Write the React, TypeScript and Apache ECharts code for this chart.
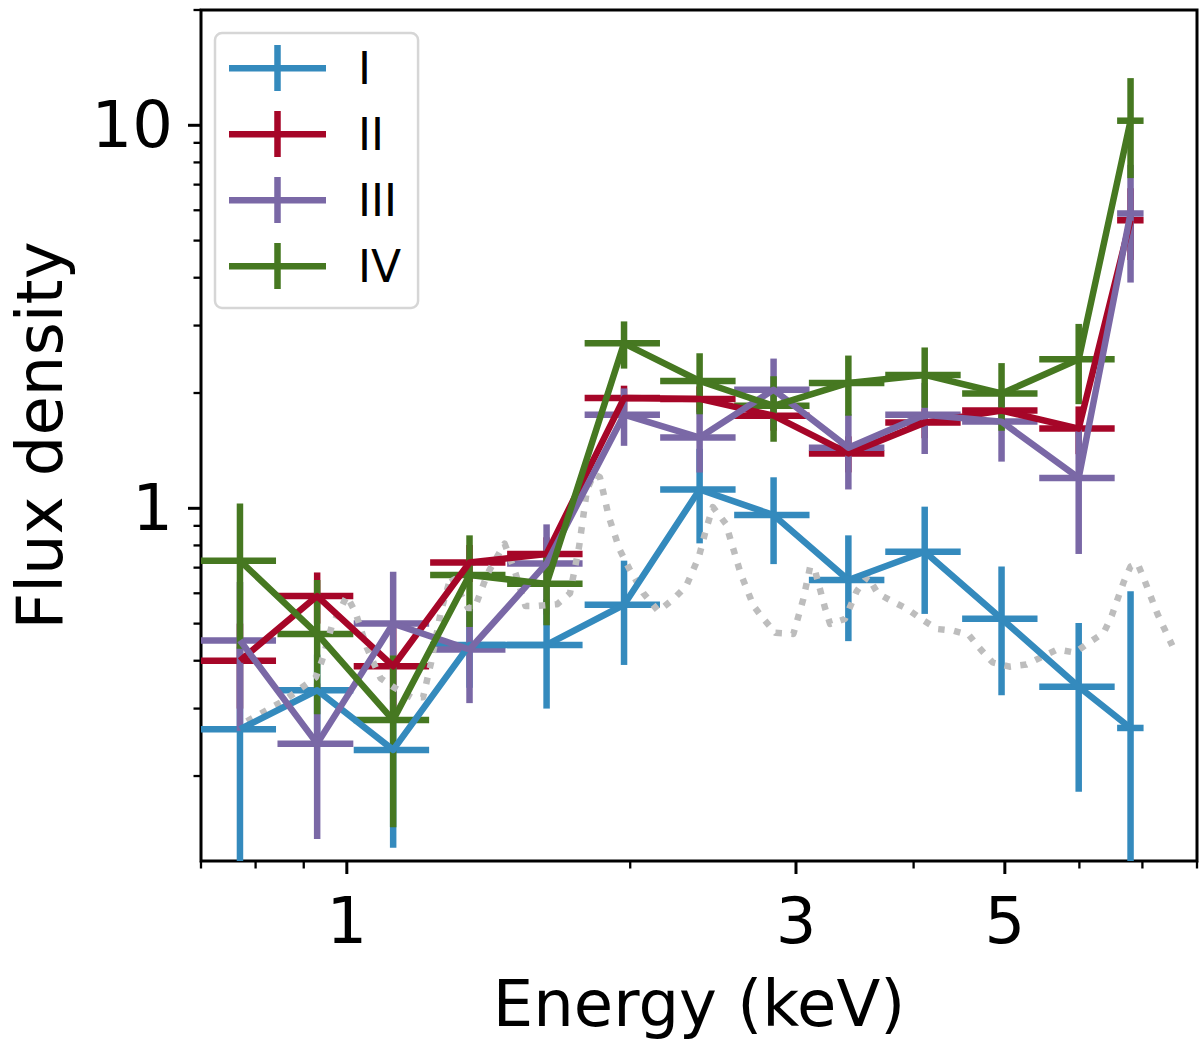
import { useEffect, useRef } from 'react';
import * as echarts from 'echarts';

// energy bins shared by all four spectra (keV), symmetric half-widths
const energy = [0.77, 0.93, 1.12, 1.35, 1.63, 1.97, 2.37, 2.84, 3.41, 4.11, 4.96, 5.99, 6.8];
const energyErr = [0.071, 0.086, 0.103, 0.124, 0.15, 0.181, 0.218, 0.261, 0.314, 0.378, 0.456, 0.551, 0.22];

const fluxI = [0.265, 0.335, 0.234, 0.44, 0.44, 0.56, 1.12, 0.96, 0.65, 0.77, 0.515, 0.342, 0.267];
const errI = [0.17, 0.08, 0.104, 0.1, 0.14, 0.17, 0.31, 0.245, 0.2, 0.24, 0.19, 0.16, 0.34];

const fluxII = [0.4, 0.59, 0.387, 0.722, 0.76, 1.94, 1.93, 1.745, 1.391, 1.674, 1.8, 1.615, 5.65];
const errII = [0.1, 0.09, 0.1, 0.08, 0.08, 0.15, 0.15, 0.15, 0.15, 0.15, 0.15, 0.23, 1.2];

const fluxIII = [0.452, 0.243, 0.5, 0.428, 0.718, 1.756, 1.53, 2.04, 1.44, 1.756, 1.684, 1.2, 5.885];
const errIII = [0.19, 0.106, 0.183, 0.118, 0.19, 0.3, 0.29, 0.42, 0.32, 0.37, 0.36, 0.44, 2.0];

const fluxIV = [0.73, 0.47, 0.28, 0.67, 0.635, 2.696, 2.15, 1.852, 2.125, 2.23, 1.994, 2.45, 10.28];
const errIV = [0.3, 0.18, 0.133, 0.18, 0.14, 0.38, 0.39, 0.36, 0.38, 0.4, 0.4, 0.58, 3.0];

// dotted reference model
const modelEnergy = [
    0.783, 0.858, 0.927, 0.941, 0.964, 1.0, 1.022, 1.05, 1.086, 1.126, 1.171, 1.205, 1.229, 1.259, 1.29,
    1.345, 1.367, 1.411, 1.471, 1.511, 1.548, 1.593, 1.673, 1.726, 1.765, 1.799, 1.83, 1.857, 1.898, 1.949,
    1.997, 2.066, 2.142, 2.222, 2.293, 2.366, 2.407, 2.448, 2.527, 2.62, 2.704, 2.771, 2.853, 2.981, 3.054,
    3.106, 3.144, 3.221, 3.261, 3.381, 3.481, 3.575, 3.663, 3.789, 3.939, 4.075, 4.236, 4.415, 4.579, 4.714,
    4.853, 5.057, 5.271, 5.683, 5.936, 6.141, 6.368, 6.493, 6.685, 6.8, 6.917, 7.036, 7.262, 7.531,
];
const modelFlux = [
    0.278, 0.315, 0.362, 0.4, 0.493, 0.59, 0.533, 0.433, 0.36, 0.339, 0.321, 0.321, 0.396, 0.539, 0.665,
    0.549, 0.549, 0.676, 0.809, 0.676, 0.556, 0.556, 0.562, 0.6, 0.795, 1.116, 1.228, 1.206, 0.95, 0.78,
    0.693, 0.6, 0.539, 0.579, 0.626, 0.748, 0.879, 1.008, 0.911, 0.676, 0.556, 0.514, 0.473, 0.47, 0.579,
    0.705, 0.685, 0.549, 0.499, 0.514, 0.608, 0.665, 0.6, 0.573, 0.546, 0.514, 0.484, 0.479, 0.467, 0.428,
    0.396, 0.386, 0.391, 0.428, 0.42, 0.446, 0.473, 0.524, 0.641, 0.705, 0.718, 0.649, 0.53, 0.438,
];

const xMajorTicks = [1, 3, 5];
const xTickLabels = ['1', '3', '5'];
const xMinorTicks = [0.7, 0.8, 0.9, 2, 4, 6, 7, 8];
const yMajorTicks = [1, 10];
const yTickLabels = ['1', '10'];
const yMinorTicks = [0.2, 0.3, 0.4, 0.5, 0.6, 0.7, 0.8, 0.9, 2, 3, 4, 5, 6, 7, 8, 9, 20];

const seriesNames = ['I', 'II', 'III', 'IV'];
const seriesFlux = [fluxI, fluxII, fluxIII, fluxIV];
const seriesErr = [errI, errII, errIII, errIV];
const colors = ['#348ABD', '#A60628', '#7A68A6', '#467821'];

const FONT = '"DejaVu Sans", Verdana, sans-serif';
const LW = 6.5;
const TICK_FONT = 64;

const errorBars = (color: string) => (params: any, api: any) => {
    const x = api.value(0);
    const y = api.value(1);
    const xe = api.value(2);
    const ye = api.value(3);
    const l = api.coord([x - xe, y]);
    const r = api.coord([x + xe, y]);
    const t = api.coord([x, y + ye]);
    const b = api.coord([x, Math.max(y - ye, 1e-3)]);
    const style = { stroke: color, lineWidth: LW, lineCap: 'butt' };
    return {
        type: 'group',
        children: [
            { type: 'line', shape: { x1: t[0], y1: t[1], x2: b[0], y2: b[1] }, style },
            { type: 'line', shape: { x1: l[0], y1: l[1], x2: r[0], y2: r[1] }, style },
        ],
    };
};

const xTicks = (len: number, width: number, labels?: string[]) => (params: any, api: any) => {
    const x = api.coord([api.value(0), 1])[0];
    const cs = params.coordSys;
    const yb = cs.y + cs.height;
    const children: any[] = [
        { type: 'line', shape: { x1: x, y1: yb, x2: x, y2: yb + len }, style: { stroke: '#000', lineWidth: width } },
    ];
    if (labels) {
        children.push({
            type: 'text',
            x,
            y: yb + 28,
            style: {
                text: labels[params.dataIndex],
                fill: '#000',
                fontSize: TICK_FONT,
                fontFamily: FONT,
                align: 'center',
                verticalAlign: 'top',
            },
        });
    }
    return { type: 'group', children };
};

const yTicks = (len: number, width: number, labels?: string[]) => (params: any, api: any) => {
    const y = api.coord([1, api.value(1)])[1];
    const cs = params.coordSys;
    const xl = cs.x;
    const children: any[] = [
        { type: 'line', shape: { x1: xl, y1: y, x2: xl - len, y2: y }, style: { stroke: '#000', lineWidth: width } },
    ];
    if (labels) {
        children.push({
            type: 'text',
            x: xl - 28,
            y,
            style: {
                text: labels[params.dataIndex],
                fill: '#000',
                fontSize: TICK_FONT,
                fontFamily: FONT,
                align: 'right',
                verticalAlign: 'middle',
            },
        });
    }
    return { type: 'group', children };
};

export default function App() {
    const chartRef = useRef<HTMLDivElement>(null);

    useEffect(() => {
        if (!chartRef.current) return;
        const chart = echarts.init(chartRef.current, undefined, { renderer: 'svg' });

        const dataSeries: any[] = [];
        seriesNames.forEach((name, k) => {
            dataSeries.push({
                name,
                type: 'line',
                color: colors[k],
                data: energy.map((e, i) => [e, seriesFlux[k][i]]),
                symbol: 'none',
                itemStyle: { color: colors[k] },
                lineStyle: { color: colors[k], width: LW, join: 'round' },
                silent: true,
            });
            dataSeries.push({
                name,
                type: 'custom',
                color: colors[k],
                clip: true,
                silent: true,
                encode: { x: 0, y: 1 },
                data: energy.map((e, i) => [e, seriesFlux[k][i], energyErr[i], seriesErr[k][i]]),
                renderItem: errorBars(colors[k]),
            });
        });

        const option = {
            animation: false,
            grid: {
                left: 190,
                right: 3,
                top: 10,
                bottom: 175,
                show: true,
                borderColor: '#000',
                borderWidth: 3,
                backgroundColor: 'transparent',
            },
            xAxis: {
                type: 'log',
                logBase: 10,
                min: 0.7,
                max: 8,
                axisLine: { show: false },
                axisTick: { show: false },
                axisLabel: { show: false },
                splitLine: { show: false },
                name: 'Energy (keV)',
                nameLocation: 'middle',
                nameGap: 111,
                nameTextStyle: { fontSize: 64, fontFamily: FONT, color: '#000' },
            },
            yAxis: {
                type: 'log',
                logBase: 10,
                min: 0.12,
                max: 20,
                axisLine: { show: false },
                axisTick: { show: false },
                axisLabel: { show: false },
                splitLine: { show: false },
                name: 'Flux density',
                nameLocation: 'middle',
                nameGap: 129,
                nameTextStyle: { fontSize: 64, fontFamily: FONT, color: '#000' },
            },
            legend: {
                orient: 'vertical',
                left: 215,
                top: 33,
                data: seriesNames.map(name => ({
                    name,
                    icon: 'path://M0,20H97V26.5H0Z M45.25,0H51.75V46H45.25Z',
                })),
                itemWidth: 97,
                itemHeight: 46,
                itemGap: 20,
                padding: [12, 17, 19, 14],
                backgroundColor: '#fff',
                borderColor: '#d6d6d6',
                borderWidth: 2.5,
                borderRadius: 7,
                selectedMode: false,
                textStyle: { fontSize: 44, fontFamily: FONT, color: '#000', padding: [0, 0, 0, 27] },
            },
            series: [
                {
                    name: 'model',
                    type: 'line',
                    data: modelEnergy.map((e, i) => [e, modelFlux[i]]),
                    symbol: 'none',
                    silent: true,
                    lineStyle: { color: '#bdbdbd', width: 6.5, type: [6.5, 9.5], cap: 'butt', join: 'round' },
                },
                ...dataSeries,
                {
                    type: 'custom',
                    silent: true,
                    clip: false,
                    data: xMajorTicks.map(v => [v, 1]),
                    renderItem: xTicks(13, 3, xTickLabels),
                },
                {
                    type: 'custom',
                    silent: true,
                    clip: false,
                    data: xMinorTicks.map(v => [v, 1]),
                    renderItem: xTicks(7.5, 2.3),
                },
                {
                    type: 'custom',
                    silent: true,
                    clip: false,
                    data: yMajorTicks.map(v => [1, v]),
                    renderItem: yTicks(13, 3, yTickLabels),
                },
                {
                    type: 'custom',
                    silent: true,
                    clip: false,
                    data: yMinorTicks.map(v => [1, v]),
                    renderItem: yTicks(7.5, 2.3),
                },
            ],
        };

        chart.setOption(option);

        return () => {
            chart.dispose();
        };
    }, []);

    return (
        <div
            ref={chartRef}
            style={{ position: 'fixed', left: 0, top: 0, width: 1200, height: 1041, background: '#fff' }}
        />
    );
}
